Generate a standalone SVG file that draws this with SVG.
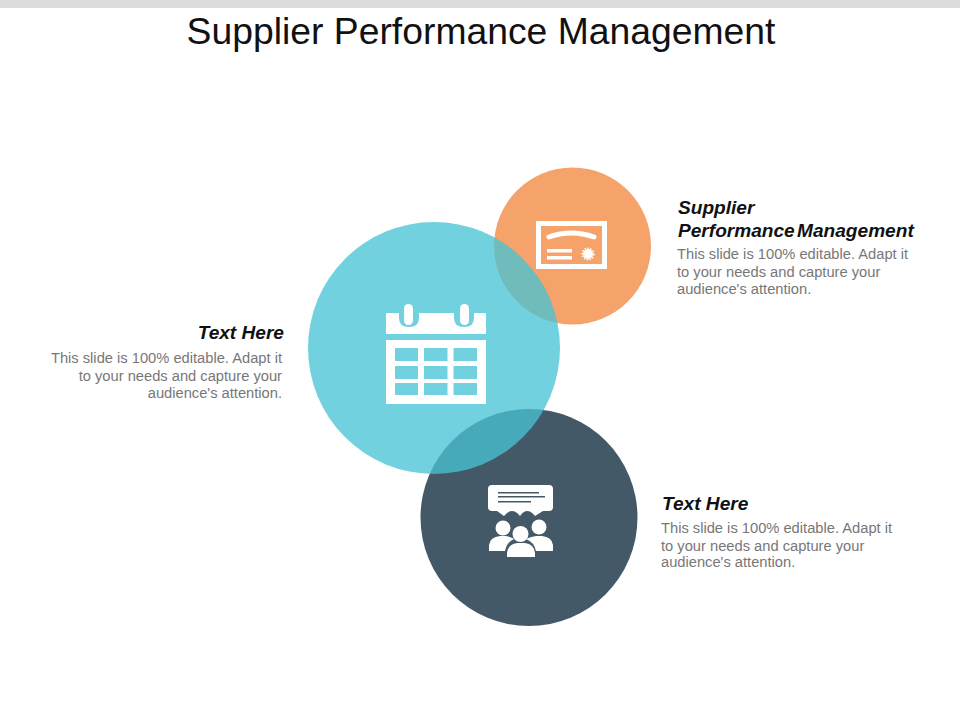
<svg xmlns="http://www.w3.org/2000/svg" width="960" height="720" viewBox="0 0 960 720">
<style>
text{font-family:"Liberation Sans",Arial,sans-serif}
.title{font-size:37.300px;fill:#111}
.head{font-size:19.100px;font-weight:bold;font-style:italic;fill:#111}
.tight{word-spacing:-3px}
.body{font-size:14.700px;fill:#777}
.e{text-anchor:end}
.w{fill:#fff}
</style>
<rect width="960" height="720" fill="#fff"/>
<rect width="960" height="8" fill="#dcdcdc"/>
<text id="title" class="title" x="481" y="44" text-anchor="middle">Supplier Performance Management</text>
<g id="node-orange">
<circle cx="572.500" cy="246" r="78.500" fill="#F6A26B"/>
<rect x="538.500" y="223.500" width="66" height="43" fill="none" stroke="#fff" stroke-width="5"/>
<path d="M549 237Q571 229 594 237" fill="none" stroke="#fff" stroke-width="5" stroke-linecap="round"/>
<rect class="w" x="547" y="249" width="25" height="3.500"/>
<rect class="w" x="547" y="256" width="25" height="3.500"/>
<circle class="w" cx="588" cy="254" r="5"/>
<circle cx="588" cy="254" r="5.800" fill="none" stroke="#fff" stroke-width="1.600" stroke-dasharray="1.500 1.400"/>
</g>
<g id="node-dark">
<circle cx="529" cy="517.500" r="108.500" fill="#445967"/>
<path class="w" d="M492 485H549Q553 485 553 489V507Q553 511 549 511H543L535 516Q527 506 520 516Q512 506 504 516L497 511H492Q488 511 488 507V489Q488 485 492 485Z"/>
<rect x="498" y="492" width="41" height="1.500" fill="#445967"/>
<rect x="498" y="496" width="47" height="1.500" fill="#445967"/>
<rect x="498" y="501" width="33" height="1.500" fill="#445967"/>
<circle class="w" cx="503" cy="528" r="7.500"/>
<circle class="w" cx="539" cy="527" r="7.500"/>
<path class="w" d="M489 551V545Q490 537 500 536H506Q512 537 514 539Q507 542 505 551Z"/>
<path class="w" d="M553 551V545Q552 537 542 536H536Q530 537 526 539Q534 542 536 551Z"/>
<circle class="w" cx="520.500" cy="534" r="8"/>
<path class="w" d="M507 557V553Q508 544 517 543H525Q534 544 535 553V557Z"/>
</g>
<g id="node-blue">
<circle cx="434" cy="348" r="126" fill="#48C3D4" fill-opacity=".77"/>
<path class="w" d="M386 313H399V318Q399 327 409 327Q419 327 419 318V313H454V318Q454 327 464 327Q474 327 474 318V313H486V334H386Z"/>
<rect class="w" x="404" y="304" width="9" height="21" rx="4.500"/>
<rect class="w" x="460" y="304" width="9" height="21" rx="4.500"/>
<path class="w" fill-rule="evenodd" d="M386 340H486V404H386ZM395 348V361H418V348ZM424 348V361H447.500V348ZM453.500 348V361H477V348ZM395 366V379H418V366ZM424 366V379H447.500V366ZM453.500 366V379H477V366ZM395 383V395H418V383ZM424 383V395H447.500V383ZM453.500 383V395H477V383Z"/>
</g>
<g id="label-top">
<text class="head" x="678" y="213.500">Supplier</text>
<text class="head tight" x="678" y="236.500">Performance Management</text>
<text class="body" x="677" y="258.500">This slide is 100% editable. Adapt it</text>
<text class="body" x="677" y="276.500">to your needs and capture your</text>
<text class="body" x="677" y="294">audience's attention.</text>
</g>
<g id="label-left">
<text class="head e" x="284" y="338.500">Text Here</text>
<text class="body e" x="282" y="362.500">This slide is 100% editable. Adapt it</text>
<text class="body e" x="282" y="380.500">to your needs and capture your</text>
<text class="body e" x="282" y="398">audience's attention.</text>
</g>
<g id="label-bottom">
<text class="head" x="662" y="509.500">Text Here</text>
<text class="body" x="661" y="532.500">This slide is 100% editable. Adapt it</text>
<text class="body" x="661" y="550.500">to your needs and capture your</text>
<text class="body" x="661" y="567">audience's attention.</text>
</g>
<g id="connectors"/>
</svg>
